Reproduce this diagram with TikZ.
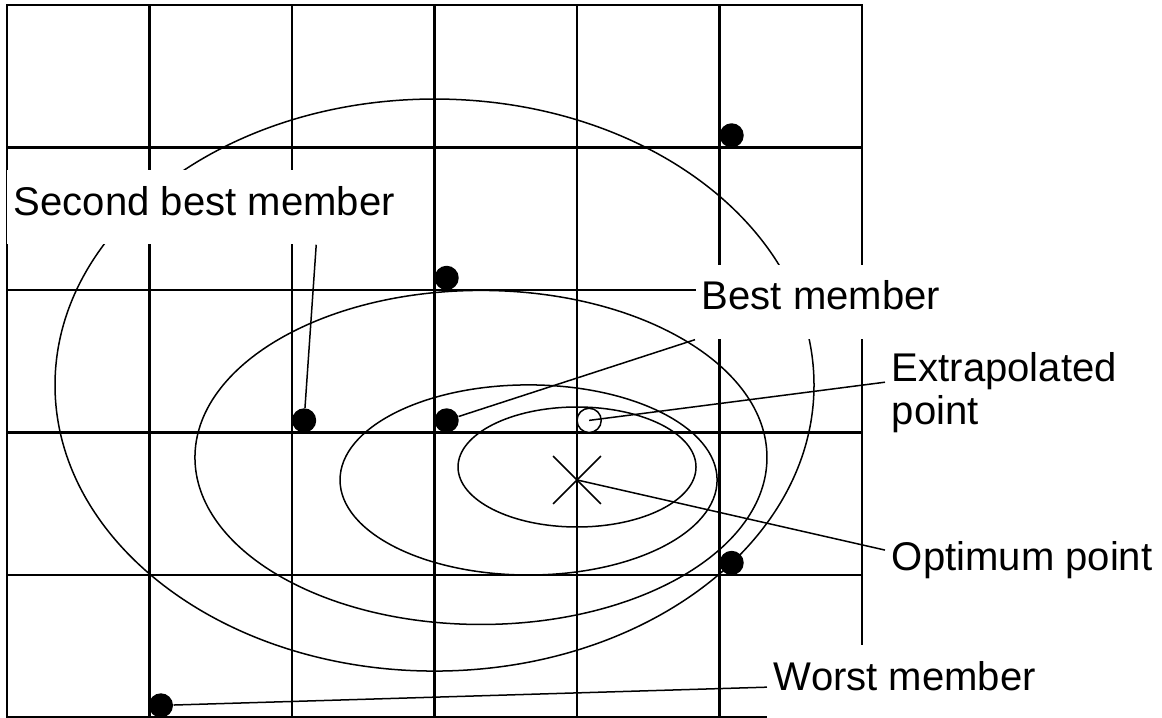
\documentclass[tikz,border=0pt]{standalone}
\usepackage{fontspec}
\setmainfont{Liberation Sans}

\begin{document}
\begin{tikzpicture}[x=2cm,y=2cm,font=\fontsize{16}{17.2}\selectfont,
  gridline/.style={line width=1pt},
  contour/.style={line width=0.6pt},
  leader/.style={line width=0.6pt},
  member/.style={circle,fill=black,inner sep=0pt,minimum size=0.34cm},
  trial/.style={circle,draw,fill=white,line width=0.6pt,inner sep=0pt,minimum size=0.34cm},
  tag/.style={fill=white,anchor=base west,inner xsep=0.09cm,inner ysep=0pt,text height=0.63cm,text depth=0.41cm},
  note/.style={anchor=base west,inner xsep=0.09cm,align=left}]
\useasboundingbox (-0.049,0.0035) rectangle (8.105,5.035);
% search grid
\draw[gridline] (0,0) rectangle (6,5);
\foreach \i in {1,...,5} \draw[gridline] (\i,0)--(\i,5);
\foreach \j in {1,...,4} \draw[gridline] (0,\j)--(6,\j);
% contours of the objective
\draw[contour] (4.0,1.758) ellipse (0.835 and 0.421);
\draw[contour] (3.66,1.667) ellipse (1.323 and 0.667);
\draw[contour] (3.326,1.825) ellipse (2.007 and 1.172);
\draw[contour] (3.0,2.333) ellipse (2.663 and 2.007);
% labels
\node[tag] (second) at (0,3.526) {Second best member};
\node[tag] (best) at (4.828,2.86) {Best member};
\node[tag] (worst) at (5.333,0.193) {Worst member};
\node[note] (extra) at (6.161,2.053) {Extrapolated\\point};
\node[note] (opt) at (6.161,1.035) {Optimum point};
% members of the population
\node[member] (m1) at (5.085,4.085) {};\node[member] (m2) at (3.085,3.085) {};
\node[member] (sbm) at (2.085,2.085) {};\node[member] (bm) at (3.085,2.085) {};
\node[member] (m5) at (5.085,1.085) {};\node[member] (wm) at (1.08,0.085) {};
\node[trial] (xp) at (4.085,2.085) {};
\coordinate (optimum) at (4.0,1.667);
\draw[leader] ([shift={(-0.168,-0.168)}]optimum)--([shift={(0.168,0.168)}]optimum);
\draw[leader] ([shift={(-0.168,0.168)}]optimum)--([shift={(0.168,-0.168)}]optimum);
% leaders
\draw[leader] (sbm)--([xshift=4.34cm]second.south west);
\draw[leader] (bm)--(best.south west);
\draw[leader] (xp.center)--([yshift=0.6cm]extra.base west);
\draw[leader] (optimum)--([yshift=0.28cm]opt.base west);
\draw[leader] (wm)--([yshift=0.04cm]worst.base west);
\end{tikzpicture}
\end{document}
